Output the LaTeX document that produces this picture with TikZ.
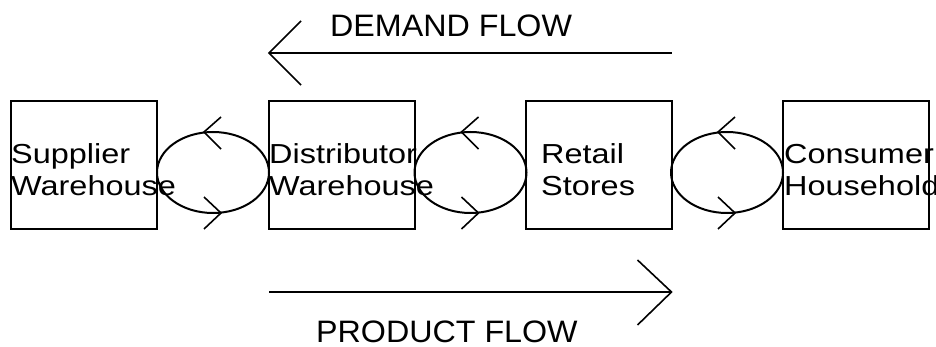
\documentclass[tikz,border=0pt]{standalone}
\usepackage{fontspec}
\usetikzlibrary{shapes.geometric,calc}
\newfontfamily\boxfont[FakeStretch=1.18]{Liberation Sans}
\newfontfamily\flowfont[FakeStretch=1.04]{Liberation Sans}
\begin{document}
\begin{tikzpicture}[x=1pt,y=-1pt,
  boxnode/.style={draw,line width=2pt,rectangle,minimum width=146pt,minimum height=128pt,inner sep=0pt,outer sep=0pt},
  loopnode/.style={draw,line width=2pt,ellipse,minimum width=112pt,minimum height=81pt,inner sep=0pt,outer sep=0pt},
  barb/.style={line width=1.6pt,line join=miter},
  flowline/.style={line width=1.5pt},
  boxlabel/.style={anchor=base west,inner sep=0pt,font=\boxfont\fontsize{27.5}{32}\selectfont},
  flowlabel/.style={anchor=base west,inner sep=0pt,font=\flowfont\fontsize{31}{36}\selectfont}]
  \useasboundingbox (0,0) rectangle (936,347);
  \clip (0,0) rectangle (936,347);

  % the four stages of the chain
  \node[boxnode] (supplier)    at (84,165)  {};
  \node[boxnode] (distributor) at (342,165) {};
  \node[boxnode] (retail)      at (598.5,165) {};
  \node[boxnode] (consumer)    at (856,165) {};

  % exchange loops between neighbouring stages
  \node[loopnode] (loopA) at (213,172.5) {};
  \node[loopnode] (loopB) at (470.5,172.5) {};
  \node[loopnode] (loopC) at (727,172.5) {};

  % stage labels
  \node[boxlabel] (supA) at (11,163.5)  {Supplier};
  \node[boxlabel] (supB) at (11,196)    {Warehouse};
  \node[boxlabel] (disA) at (269,163.5) {Distributor};
  \node[boxlabel] (disB) at (269,196)   {Warehouse};
  \node[boxlabel] (retA) at (541,163.5) {Retail};
  \node[boxlabel] (retB) at (541,196)   {Stores};
  \node[boxlabel] (conA) at (784,163.5) {Consumer};
  \node[boxlabel] (conB) at (784,196)   {Household};

  % direction marks on each loop: upstream on top, downstream below
  \foreach \l in {loopA,loopB,loopC}{
    \draw[barb] ($(\l.north)+(8,-15)$) -- ($(\l.north)+(-9,0)$) -- ($(\l.north)+(8,17)$);
    \draw[barb] ($(\l.south)+(-9,-16)$) -- ($(\l.south)+(8,0)$) -- ($(\l.south)+(-9,16)$);
  }

  % demand flow, right to left
  \coordinate (dstart) at (retail.east |- 0,53);
  \coordinate (dend)   at (distributor.west |- 0,53);
  \draw[flowline] (dstart) -- (dend);
  \draw[barb] ($(dend)+(32,-32)$) -- (dend) -- ($(dend)+(32,32)$);
  \node[flowlabel] (demand) at (330,37) {DEMAND FLOW};

  % product flow, left to right
  \coordinate (pstart) at (distributor.west |- 0,292);
  \coordinate (pend)   at (retail.east |- 0,292);
  \draw[flowline] (pstart) -- (pend);
  \draw[barb] ($(pend)+(-34,-32)$) -- (pend) -- ($(pend)+(-34,33)$);
  \node[flowlabel] (product) at (316,342) {PRODUCT FLOW};
\end{tikzpicture}
\end{document}
